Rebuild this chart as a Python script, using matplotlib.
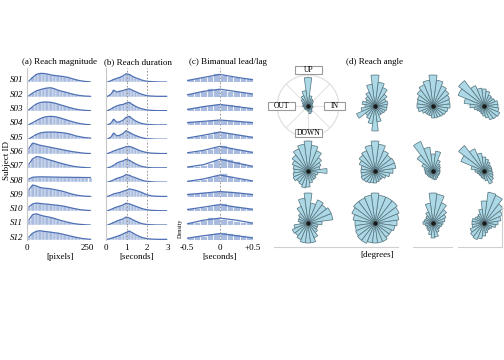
import numpy as np
import matplotlib
matplotlib.use("Agg")
import matplotlib.pyplot as plt
from matplotlib.lines import Line2D
from matplotlib.patches import Rectangle

plt.rcParams['font.family'] = ['Liberation Serif', 'DejaVu Serif']

subjects = ["S01", "S02", "S03", "S04", "S05", "S06",
            "S07", "S08", "S09", "S10", "S11", "S12"]

# (a) reach magnitude, bins of 15 px from 0 to 270
mag_edges = np.arange(0, 271, 15)
mag_hist = [
    [0.10, 0.35, 0.55, 0.62, 0.62, 0.58, 0.52, 0.48, 0.45, 0.42, 0.38, 0.33, 0.25, 0.18, 0.12, 0.08, 0.05, 0.03],
    [0.08, 0.25, 0.40, 0.48, 0.55, 0.60, 0.62, 0.55, 0.45, 0.38, 0.32, 0.25, 0.18, 0.12, 0.08, 0.05, 0.03, 0.02],
    [0.10, 0.30, 0.48, 0.58, 0.62, 0.62, 0.60, 0.55, 0.48, 0.40, 0.33, 0.25, 0.18, 0.12, 0.08, 0.05, 0.03, 0.02],
    [0.05, 0.18, 0.32, 0.45, 0.55, 0.60, 0.62, 0.60, 0.55, 0.48, 0.40, 0.32, 0.25, 0.18, 0.12, 0.08, 0.05, 0.03],
    [0.05, 0.20, 0.35, 0.45, 0.50, 0.52, 0.52, 0.52, 0.50, 0.48, 0.45, 0.40, 0.33, 0.25, 0.20, 0.15, 0.12, 0.10],
    [0.40, 0.75, 0.68, 0.60, 0.55, 0.50, 0.45, 0.40, 0.35, 0.30, 0.25, 0.20, 0.15, 0.12, 0.08, 0.05, 0.03, 0.02],
    [0.30, 0.65, 0.80, 0.78, 0.70, 0.62, 0.55, 0.48, 0.40, 0.33, 0.26, 0.20, 0.14, 0.10, 0.07, 0.05, 0.03, 0.02],
    [0.25, 0.36, 0.38, 0.39, 0.39, 0.38, 0.38, 0.37, 0.37, 0.36, 0.36, 0.36, 0.35, 0.35, 0.35, 0.34, 0.34, 0.34],
    [0.50, 0.82, 0.75, 0.65, 0.60, 0.58, 0.55, 0.50, 0.45, 0.40, 0.33, 0.25, 0.18, 0.12, 0.08, 0.05, 0.03, 0.02],
    [0.30, 0.50, 0.55, 0.53, 0.50, 0.48, 0.45, 0.42, 0.40, 0.36, 0.32, 0.26, 0.20, 0.15, 0.10, 0.07, 0.05, 0.03],
    [0.40, 0.75, 0.80, 0.72, 0.65, 0.60, 0.55, 0.48, 0.40, 0.33, 0.26, 0.20, 0.14, 0.10, 0.07, 0.05, 0.03, 0.02],
    [0.20, 0.45, 0.58, 0.62, 0.58, 0.55, 0.52, 0.48, 0.45, 0.40, 0.34, 0.28, 0.22, 0.16, 0.11, 0.07, 0.04, 0.02],
]

# (b) reach duration, bins of 0.15 s from 0 to 3
dur_edges = np.linspace(0, 3, 21)
dur_hist = [
    [0.02, 0.10, 0.20, 0.28, 0.35, 0.45, 0.60, 0.55, 0.42, 0.32, 0.24, 0.16, 0.10, 0.07, 0.05, 0.04, 0.03, 0.02, 0.02, 0.02],
    [0.02, 0.15, 0.45, 0.32, 0.38, 0.42, 0.50, 0.55, 0.45, 0.35, 0.25, 0.17, 0.10, 0.06, 0.04, 0.03, 0.02, 0.02, 0.02, 0.02],
    [0.02, 0.12, 0.25, 0.35, 0.42, 0.45, 0.55, 0.60, 0.45, 0.32, 0.22, 0.15, 0.10, 0.06, 0.04, 0.03, 0.02, 0.02, 0.02, 0.02],
    [0.02, 0.12, 0.42, 0.20, 0.25, 0.35, 0.55, 0.62, 0.45, 0.30, 0.20, 0.12, 0.08, 0.05, 0.04, 0.03, 0.02, 0.02, 0.02, 0.02],
    [0.03, 0.15, 0.45, 0.25, 0.30, 0.42, 0.62, 0.50, 0.38, 0.28, 0.20, 0.13, 0.08, 0.05, 0.04, 0.03, 0.02, 0.02, 0.02, 0.02],
    [0.02, 0.10, 0.20, 0.28, 0.35, 0.42, 0.50, 0.52, 0.45, 0.35, 0.26, 0.18, 0.12, 0.08, 0.05, 0.04, 0.03, 0.02, 0.02, 0.02],
    [0.02, 0.08, 0.20, 0.35, 0.45, 0.50, 0.62, 0.55, 0.42, 0.30, 0.20, 0.12, 0.08, 0.05, 0.03, 0.02, 0.02, 0.02, 0.02, 0.02],
    [0.02, 0.08, 0.18, 0.28, 0.35, 0.42, 0.55, 0.50, 0.40, 0.32, 0.24, 0.16, 0.10, 0.07, 0.05, 0.03, 0.02, 0.02, 0.02, 0.02],
    [0.02, 0.10, 0.20, 0.25, 0.30, 0.38, 0.45, 0.55, 0.50, 0.45, 0.38, 0.30, 0.20, 0.12, 0.07, 0.04, 0.03, 0.02, 0.02, 0.02],
    [0.02, 0.10, 0.20, 0.28, 0.35, 0.42, 0.55, 0.50, 0.42, 0.34, 0.26, 0.18, 0.12, 0.08, 0.05, 0.04, 0.03, 0.02, 0.02, 0.02],
    [0.02, 0.10, 0.20, 0.30, 0.38, 0.45, 0.58, 0.52, 0.40, 0.30, 0.20, 0.12, 0.08, 0.05, 0.04, 0.03, 0.02, 0.02, 0.02, 0.02],
    [0.02, 0.08, 0.15, 0.22, 0.30, 0.40, 0.50, 0.60, 0.48, 0.35, 0.25, 0.16, 0.10, 0.06, 0.04, 0.03, 0.02, 0.02, 0.02, 0.02],
]

# (c) bimanual lead/lag, bins of 0.1 s from -0.5 to 0.5
lag_edges = np.linspace(-0.5, 0.5, 11)
lag_hist = [
    [0.25, 0.30, 0.36, 0.45, 0.62, 0.52, 0.45, 0.38, 0.32, 0.27],
    [0.25, 0.30, 0.38, 0.58, 0.52, 0.47, 0.41, 0.36, 0.30, 0.25],
    [0.20, 0.25, 0.31, 0.39, 0.46, 0.48, 0.45, 0.38, 0.30, 0.25],
    [0.27, 0.29, 0.32, 0.36, 0.39, 0.39, 0.36, 0.34, 0.30, 0.27],
    [0.20, 0.25, 0.31, 0.39, 0.58, 0.50, 0.45, 0.36, 0.30, 0.25],
    [0.16, 0.20, 0.26, 0.35, 0.48, 0.63, 0.48, 0.36, 0.28, 0.20],
    [0.14, 0.17, 0.23, 0.35, 0.58, 0.72, 0.63, 0.52, 0.36, 0.25],
    [0.16, 0.20, 0.26, 0.37, 0.50, 0.63, 0.45, 0.34, 0.25, 0.20],
    [0.25, 0.27, 0.31, 0.34, 0.39, 0.42, 0.39, 0.34, 0.29, 0.25],
    [0.20, 0.23, 0.28, 0.37, 0.48, 0.53, 0.42, 0.34, 0.28, 0.23],
    [0.20, 0.25, 0.37, 0.58, 0.50, 0.45, 0.37, 0.31, 0.25, 0.20],
    [0.20, 0.23, 0.28, 0.37, 0.46, 0.50, 0.45, 0.37, 0.30, 0.23],
]
lag_line_x = [-0.5, -0.25, 0.0, 0.25, 0.5]
lag_line = [
    [0.12, 0.34, 0.55, 0.35, 0.18],
    [0.12, 0.37, 0.52, 0.35, 0.18],
    [0.10, 0.30, 0.45, 0.30, 0.15],
    [0.18, 0.27, 0.36, 0.27, 0.18],
    [0.10, 0.30, 0.52, 0.33, 0.15],
    [0.07, 0.24, 0.52, 0.30, 0.10],
    [0.07, 0.24, 0.62, 0.36, 0.12],
    [0.07, 0.24, 0.52, 0.30, 0.10],
    [0.15, 0.25, 0.36, 0.27, 0.15],
    [0.10, 0.27, 0.45, 0.27, 0.12],
    [0.10, 0.36, 0.50, 0.36, 0.15],
    [0.10, 0.27, 0.42, 0.27, 0.12],
]

# (d) reach angle, 24 bins of 15 degrees (0 = IN, 90 = UP, 180 = OUT, 270 = DOWN)
angle_bins = np.arange(0, 360, 15)
rose_counts = [
    [5, 5, 6, 8, 9, 12, 33, 18, 13, 10, 7, 6, 6, 5, 5, 5, 5, 5, 6, 9, 8, 6, 5, 6],
    [12, 13, 12, 15, 20, 24, 31, 22, 15, 12, 10, 13, 10, 14, 20, 12, 14, 18, 25, 16, 10, 10, 11, 12],
    [17, 17, 18, 20, 22, 26, 31, 26, 23, 20, 17, 16, 16, 15, 12, 10, 10, 10, 12, 12, 12, 13, 14, 15],
    [14, 14, 12, 11, 12, 15, 17, 18, 22, 32, 28, 20, 14, 10, 8, 7, 7, 8, 10, 12, 15, 16, 17, 15],
    [19, 12, 14, 17, 22, 26, 30, 27, 24, 20, 17, 15, 14, 15, 16, 14, 15, 17, 16, 12, 10, 10, 9, 10],
    [18, 21, 21, 20, 22, 27, 30, 26, 22, 20, 17, 14, 14, 14, 15, 14, 13, 12, 12, 11, 10, 10, 12, 15],
    [7, 7, 8, 9, 12, 20, 17, 24, 32, 20, 12, 9, 8, 8, 7, 7, 7, 7, 8, 9, 8, 7, 7, 7],
    [8, 8, 8, 8, 10, 12, 14, 18, 24, 32, 25, 13, 9, 7, 6, 6, 6, 7, 8, 10, 14, 12, 10, 9],
    [14, 25, 25, 23, 25, 20, 30, 25, 18, 12, 10, 10, 8, 14, 17, 16, 18, 20, 20, 20, 16, 12, 10, 10],
    [22, 24, 26, 28, 28, 28, 30, 28, 27, 27, 25, 22, 20, 20, 21, 22, 22, 20, 20, 20, 20, 18, 18, 20],
    [10, 12, 14, 17, 22, 29, 30, 20, 12, 9, 8, 9, 10, 8, 7, 8, 9, 12, 15, 14, 10, 8, 8, 9],
    [14, 17, 20, 24, 30, 31, 22, 14, 10, 9, 10, 12, 12, 12, 15, 17, 18, 16, 13, 10, 8, 8, 9, 12],
]

W, H = 504, 360
fig = plt.figure(figsize=(W / 100, H / 100), dpi=100)


def px_axes(x0, y0, x1, y1, **kw):
    # place an axes using pixel coordinates measured from the top-left
    return fig.add_axes([x0 / W, 1 - y1 / H, (x1 - x0) / W, (y1 - y0) / H], **kw)


def fig_text(x, y, s, **kw):
    return fig.text(x / W, 1 - y / H, s, **kw)


bar_color = "#a9bbde"
line_color = "#4f71b4"
grid_gray = "#c8c8c8"

row_h = 14.3
first_base = 82.3

panels = [
    # x0, x1, xlim, ticks, ticklabels, left spine, dashed refs
    (27.3, 92.1, (0, 270), [0, 250], ["0", "250"], True, []),
    (106.0, 168.0, (0, 3), [0, 1, 2, 3], ["0", "1", "2", "3"], True, [1, 2]),
    (187.0, 253.0, (-0.5, 0.5), [-0.5, 0, 0.5], ["-0.5", "0", "+0.5"], False, [0]),
]

for p, (x0, x1, xlim, ticks, tlabels, left_spine, refs) in enumerate(panels):
    for i, subj in enumerate(subjects):
        base = first_base + i * row_h
        ax = px_axes(x0, base - row_h, x1, base)
        if p == 0:
            edges, vals = mag_edges, mag_hist[i]
            centers = (edges[:-1] + edges[1:]) / 2
            ax.bar(edges[:-1], vals, width=np.diff(edges), align='edge',
                   color=bar_color, edgecolor='white', linewidth=0.3)
            ax.plot(centers, vals, color=line_color, lw=0.9)
        elif p == 1:
            edges, vals = dur_edges, dur_hist[i]
            centers = (edges[:-1] + edges[1:]) / 2
            ax.bar(edges[:-1], vals, width=np.diff(edges), align='edge',
                   color=bar_color, edgecolor='white', linewidth=0.3)
            ax.plot(centers, vals, color=line_color, lw=0.9)
        else:
            edges, vals = lag_edges, lag_hist[i]
            ax.bar(edges[:-1], vals, width=np.diff(edges), align='edge',
                   color=bar_color, edgecolor='white', linewidth=0.5)
            ax.plot(lag_line_x, lag_line[i], color=line_color, lw=0.9)
        for r in refs:
            ax.axvline(r, color='#888888', lw=0.6, ls=(0, (2, 2)))
        ax.set_xlim(*xlim)
        ax.set_ylim(0, 1)
        ax.set_facecolor('none')
        for s in ['top', 'right', 'bottom']:
            ax.spines[s].set_visible(False)
        ax.spines['left'].set_visible(left_spine)
        ax.spines['left'].set_color(grid_gray)
        ax.spines['left'].set_linewidth(0.8)
        ax.tick_params(length=0, labelsize=6.5, pad=3)
        if p == 0:
            ax.set_yticks([0.2])
            ax.set_yticklabels([subj], fontstyle='italic')
        else:
            ax.set_yticks([])
        if i == len(subjects) - 1:
            ax.set_xticks(ticks)
            ax.set_xticklabels(tlabels)
        else:
            ax.set_xticks([])

# panel titles and axis labels
fig_text(60, 62, "(a) Reach magnitude", ha='center', va='center', size=6.5)
fig_text(137.5, 62, "(b) Reach duration", ha='center', va='center', size=6.5)
fig_text(228, 62, "(c) Bimanual lead/lag", ha='center', va='center', size=6.5)
fig_text(375, 62, "(d) Reach angle", ha='center', va='center', size=6.5)
fig_text(60, 257, "[pixels]", ha='center', va='center', size=6.5)
fig_text(137, 257, "[seconds]", ha='center', va='center', size=6.5)
fig_text(220, 257, "[seconds]", ha='center', va='center', size=6.5)
fig_text(377, 255, "[degrees]", ha='center', va='center', size=6.5)
fig_text(7, 160, "Subject ID", ha='center', va='center', size=6.5, rotation=90)
fig_text(180, 228, "Density", ha='center', va='center', size=4.5, rotation=90)

# rose plots
col_x = [308, 375, 433, 484]
row_y = [106, 171, 223]
rad = 31
theta = np.deg2rad(angle_bins)
for k, counts in enumerate(rose_counts):
    cx, cy = col_x[k % 4], row_y[k // 4]
    ax = px_axes(cx - rad, cy - rad, cx + rad, cy + rad, projection='polar')
    ax.bar(theta, counts, width=np.deg2rad(15), bottom=0, color='#add8e6',
           edgecolor='#5a7a84', linewidth=0.55, clip_on=False, zorder=2)
    ax.scatter([0], [0], s=5, color='#1a1a1a', zorder=3, clip_on=False)
    ax.set_ylim(0, rad)
    ax.set_facecolor('none')
    if k == 0:
        ax.set_thetagrids(range(0, 360, 45), labels=[])
        ax.set_rgrids([rad + 5], labels=[])
        ax.grid(color='#e2e2e2', lw=0.8)
        ax.spines['polar'].set_color('#e2e2e2')
        ax.spines['polar'].set_linewidth(0.8)
        ax.tick_params(length=0)
    else:
        ax.set_axis_off()

# direction labels on the first rose
for txt, (x, y, w) in {"UP": (308.5, 70, 27), "OUT": (281.3, 106, 27),
                       "IN": (334.7, 106, 21), "DOWN": (308.5, 133, 27)}.items():
    fig.add_artist(Rectangle(((x - w / 2) / W, 1 - (y + 4.3) / H), w / W, 8.6 / H,
                             transform=fig.transFigure, facecolor='white',
                             edgecolor='#9a9a9a', lw=0.8, zorder=5))
    t = fig_text(x, y, txt, ha='center', va='center', size=5.5)
    t.set_zorder(6)

# light frame lines under the rose grid
for (xa, xb, ya, yb) in [(274, 398, 247, 247), (413, 452, 247, 247),
                         (458, 502, 247, 247), (502, 502, 206, 247)]:
    fig.add_artist(Line2D([xa / W, xb / W], [1 - ya / H, 1 - yb / H],
                          transform=fig.transFigure, color='#d0d0d0', lw=0.8))

fig.savefig("out.png", dpi=100)
